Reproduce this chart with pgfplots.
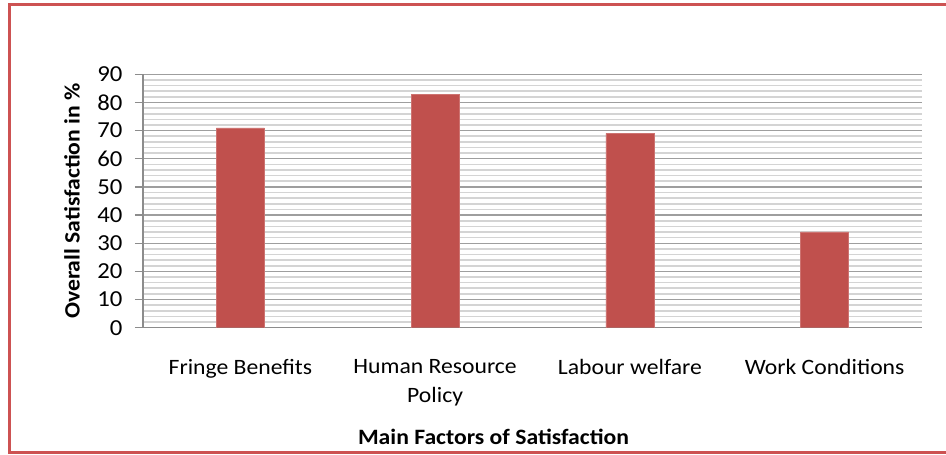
\documentclass[border=0pt]{standalone}
\usepackage{pgfplots}
\pgfplotsset{compat=1.18}
\usepackage{fontspec}
\setmainfont{Carlito}[FakeStretch=1.08]
\definecolor{barred}{HTML}{C0504D}
\definecolor{framered}{RGB}{205,82,82}
\definecolor{majorgrid}{RGB}{158,158,158}
\definecolor{minorgrid}{RGB}{212,212,212}
\definecolor{axisgray}{RGB}{140,140,140}

\begin{document}
\begin{tikzpicture}
% outer chart frame (runs past the right edge)
\draw[framered, line width=3bp] (9.5bp,2bp) rectangle (960bp,450bp);
\begin{axis}[
  at={(143bp,127.3bp)}, anchor=south west,
  scale only axis, width=779bp, height=253.4bp,
  ybar, bar width=48bp,
  xmin=-0.5, xmax=3.5, ymin=0, ymax=90,
  xtick=data,
  xticklabels={Fringe Benefits, Human Resource\\Policy, Labour welfare, Work Conditions},
  ytick={0,10,...,90}, minor y tick num=4,
  axis x line*=bottom, axis y line*=left,
  axis line style={axisgray, line width=1.2bp},
  tick align=outside, major tick length=8bp, minor tick length=0pt,
  xtick style={draw=none},
  ytick style={axisgray, line width=1.2bp},
  ymajorgrids, yminorgrids,
  major grid style={majorgrid, line width=1.2bp},
  minor grid style={minorgrid, line width=1.6bp},
  /pgf/number format/assume math mode=true,
  tick label style={text=black},
  yticklabel style={anchor=east, xshift=-9bp, font=\fontsize{23}{28}\selectfont},
  xticklabel style={align=center, anchor=north, yshift=-20bp,
    font=\fontsize{22}{29}\selectfont},
  xlabel={\textbf{Main Factors of Satisfaction}},
  xlabel style={at={(axis description cs:0.45,0)}, anchor=center, yshift=-109bp,
    font=\fontsize{22}{26}\selectfont, text=black},
  ylabel={\textbf{Overall Satisfaction in \%}},
  ylabel style={at={(axis description cs:-0.0911,0.5)}, anchor=center,
    font=\fontsize{22}{26}\selectfont, text=black},
]
\addplot[fill=barred, draw=barred!80!white] coordinates {(0,71) (1,83) (2,69) (3,34)};
\end{axis}
\pgfresetboundingbox
\useasboundingbox (0,0) rectangle (946bp,455bp);
\end{tikzpicture}
\end{document}
